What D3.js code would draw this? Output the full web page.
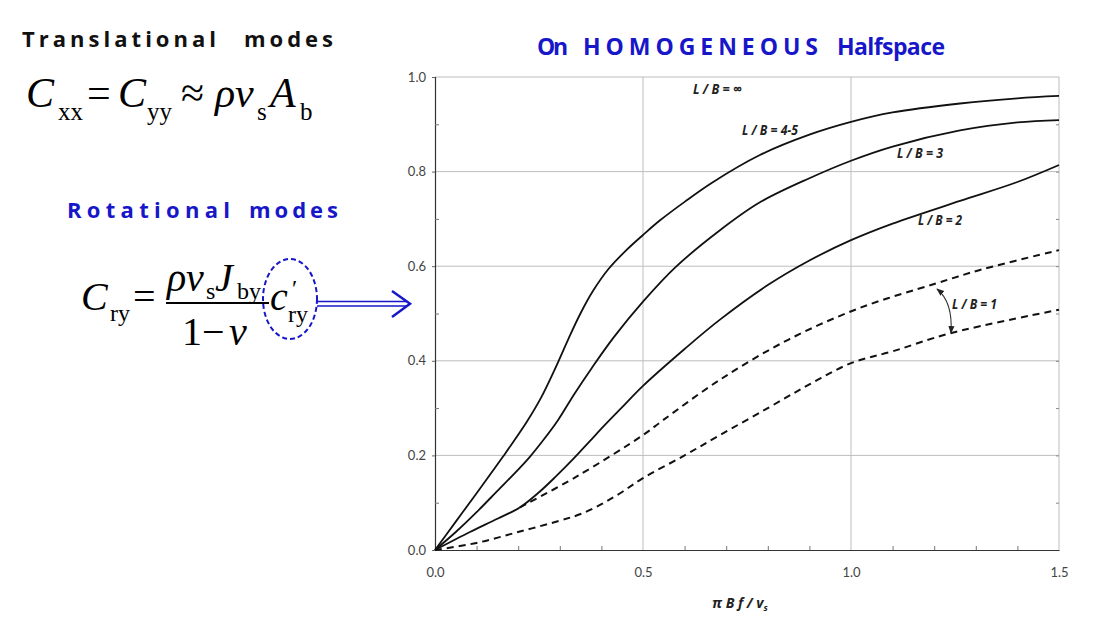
<!DOCTYPE html>
<html><head><meta charset="utf-8">
<script src="https://cdn.jsdelivr.net/npm/d3@7"></script>
<style>body{margin:0;background:#fff}svg{display:block}</style>
</head><body>
<svg id="c" width="1094" height="632"></svg>
<script>
// ---- data ----
const xTicks = [0.0, 0.5, 1.0, 1.5];
const yTicks = [0.0, 0.2, 0.4, 0.6, 0.8, 1.0];
const minorX = [0.1,0.2,0.3,0.4,0.6,0.7,0.8,0.9,1.1,1.2,1.3,1.4];
const minorY = [0.1,0.3,0.5,0.7,0.9];

const topX = [0,0.05,0.1,0.164,0.22,0.255,0.288,0.32,0.349,0.38,0.417,0.46,0.5,0.541,0.6,0.665,0.781,0.9,1.0,1.1,1.262,1.4,1.5];
const topY = [0,0.06,0.12,0.198,0.27,0.322,0.382,0.445,0.499,0.548,0.594,0.634,0.666,0.697,0.736,0.776,0.835,0.878,0.905,0.925,0.944,0.955,0.96];

const midX = [0,0.05,0.1,0.15,0.2,0.228,0.26,0.296,0.335,0.377,0.43,0.5,0.577,0.685,0.781,0.9,1.0,1.1,1.262,1.4,1.5];
const midY = [0,0.038,0.08,0.125,0.17,0.197,0.232,0.275,0.33,0.385,0.45,0.525,0.597,0.676,0.735,0.786,0.823,0.853,0.887,0.904,0.909];

const lb2X = [0,0.084,0.15,0.204,0.25,0.29,0.333,0.37,0.409,0.45,0.5,0.6,0.685,0.8,0.9,1.0,1.1,1.262,1.4,1.5];
const lb2Y = [0,0.038,0.066,0.09,0.122,0.155,0.193,0.228,0.265,0.302,0.347,0.425,0.487,0.56,0.612,0.655,0.69,0.738,0.778,0.814];

const lb1aX = [0.204,0.34,0.5,0.549,0.685,0.85,1.022,1.206,1.31,1.5];
const lb1aY = [0.09,0.155,0.243,0.275,0.36,0.445,0.512,0.564,0.592,0.634];

const lb1bX = [0,0.1,0.204,0.3,0.35,0.4,0.445,0.5,0.6,0.685,0.8,0.9,1.0,1.1,1.238,1.5];
const lb1bY = [0,0.015,0.039,0.062,0.076,0.097,0.12,0.152,0.2,0.243,0.3,0.35,0.395,0.42,0.458,0.508];

const curveLabels = ["L / B = \u221E", "L / B = 4-5", "L / B = 3", "L / B = 2", "L / B = 1"];

// ---- drawing ----
const svg = d3.select("#c");
const x = d3.scaleLinear().domain([0,1.5]).range([435,1059]);
const y = d3.scaleLinear().domain([0,1]).range([550,77]);
const BLUE = "#1717c9";

// grid
svg.append("g").selectAll("line").data(yTicks.slice(1)).join("line")
  .attr("x1",x(0)).attr("x2",x(1.5)).attr("y1",d=>y(d)).attr("y2",d=>y(d))
  .attr("stroke","#bdbdbd").attr("stroke-width",1);
svg.append("g").selectAll("line").data(xTicks.slice(1)).join("line")
  .attr("y1",y(0)).attr("y2",y(1)).attr("x1",d=>x(d)).attr("x2",d=>x(d))
  .attr("stroke","#bdbdbd").attr("stroke-width",1);

// axes
const fmt = d3.format(".1f");
const gx = svg.append("g").attr("transform",`translate(0,${y(0)})`)
  .call(d3.axisBottom(x).tickValues(xTicks).tickFormat(fmt).tickSize(0).tickPadding(18));
const gy = svg.append("g").attr("transform",`translate(${x(0)},0)`)
  .call(d3.axisLeft(y).tickValues(yTicks).tickFormat(fmt).tickSize(3).tickPadding(6));
[gx,gy].forEach(g=>{
  g.select(".domain").attr("stroke","#333").attr("stroke-width",1.2);
  g.selectAll("text").attr("font-family","Lato, 'Open Sans', sans-serif").attr("font-size",13).attr("fill","#444");
  g.selectAll(".tick line").attr("stroke","#666");
});
// minor ticks
svg.append("g").attr("transform",`translate(0,${y(0)})`)
  .call(d3.axisBottom(x).tickValues(minorX).tickFormat("").tickSize(-4))
  .call(g=>{g.select(".domain").remove(); g.selectAll("line").attr("stroke","#777");});
svg.append("g").attr("transform",`translate(${x(0)},0)`)
  .call(d3.axisLeft(y).tickValues(minorY).tickFormat("").tickSize(-4))
  .call(g=>{g.select(".domain").remove(); g.selectAll("line").attr("stroke","#777");});
svg.append("g").attr("transform",`translate(${x(1.5)},0)`)
  .call(d3.axisRight(y).tickValues(minorY.concat(yTicks.slice(1,5))).tickFormat("").tickSize(-3))
  .call(g=>{g.select(".domain").remove(); g.selectAll("line").attr("stroke","#888");});

// curves
const line = d3.line().x(d=>x(d[0])).y(d=>y(d[1])).curve(d3.curveCatmullRom.alpha(0.5));
const series = [
  {xs:topX, ys:topY, dash:null},
  {xs:midX, ys:midY, dash:null},
  {xs:lb2X, ys:lb2Y, dash:null},
  {xs:lb1aX, ys:lb1aY, dash:"7,5"},
  {xs:lb1bX, ys:lb1bY, dash:"7,5"}
];
svg.append("g").selectAll("path").data(series).join("path")
  .attr("d",s=>line(s.xs.map((v,i)=>[v,s.ys[i]])))
  .attr("fill","none").attr("stroke","#111")
  .attr("stroke-width",d=>d.dash?2:1.8)
  .attr("stroke-dasharray",d=>d.dash);

// curve labels
const labPos = [[693,94,49],[742,135,56],[897,158,46],[918,225,44],[952,309,45]];
svg.append("g").selectAll("text").data(curveLabels).join("text")
  .attr("x",(d,i)=>labPos[i][0]).attr("y",(d,i)=>labPos[i][1])
  .attr("textLength",(d,i)=>labPos[i][2]).attr("lengthAdjust","spacingAndGlyphs")
  .attr("font-family","'Open Sans', Lato, sans-serif").attr("font-style","italic").attr("font-weight",700)
  .attr("font-size",14).attr("fill","#222").text(d=>d);

// L/B=1 arrow
const defs = svg.append("defs");
defs.append("marker").attr("id","ah").attr("viewBox","0 0 10 10").attr("refX",9).attr("refY",5)
  .attr("markerWidth",7).attr("markerHeight",7).attr("orient","auto-start-reverse")
  .append("path").attr("d","M0,1 L10,5 L0,9 Z").attr("fill","#222");
svg.append("path").attr("d","M937,289 Q953,302 951,333").attr("fill","none")
  .attr("stroke","#333").attr("stroke-width",1.1)
  .attr("marker-start","url(#ah)").attr("marker-end","url(#ah)");

// axis title
const at = svg.append("text").attr("x",712).attr("y",608)
  .attr("font-family","'Open Sans', Lato, sans-serif").attr("font-weight",700).attr("font-style","italic")
  .attr("font-size",14).attr("fill","#222");
at.append("tspan").text("\u03C0 B f / v");
at.append("tspan").attr("font-size",9).attr("dy",3).text("s");

// titles
function title(t,x0,len,yy,size,col){
  svg.append("text").attr("x",x0).attr("y",yy).attr("textLength",len).attr("lengthAdjust","spacing")
    .attr("font-family","'Open Sans', sans-serif").attr("font-weight",700).attr("font-size",size)
    .attr("fill",col).text(t);
}
title("On",537,31,55,23,BLUE);
title("HOMOGENEOUS",583,235,55,23,BLUE);
title("Halfspace",837,108,55,23,BLUE);
title("Translational",22,194,47,22,"#111");
title("modes",244,89,47,22,"#111");
title("Rotational",67,163,218,22,BLUE);
title("modes",249,89,218,22,BLUE);

// formulas
const SER = "'Liberation Serif', 'Times New Roman', serif";
function put(t,xx,yy,size,ital){
  svg.append("text").attr("x",xx).attr("y",yy).attr("font-family",SER)
    .attr("font-size",size).attr("font-style",ital?"italic":"normal").attr("fill","#000").text(t);
}
put("C",26,107,42,true); put("xx",58,120,25,false);
put("=",87,107,42,false);
put("C",118,107,42,true); put("yy",147,120,25,false);
put("\u2248",181,107,42,false);
put("\u03C1",215,107,42,true); put("v",235,107,42,true); put("s",257,120,25,false);
put("A",270,107,42,true); put("b",300,120,25,false);

put("C",81,310,40,true); put("ry",110,321,24,false);
put("=",133,310,40,false);
put("\u03C1",167,291,40,true); put("v",186,291,40,true); put("s",206,299,24,false);
put("J",215,291,40,true); put("by",237,299,24,false);
svg.append("line").attr("x1",166).attr("x2",269).attr("y1",303).attr("y2",303).attr("stroke","#000").attr("stroke-width",2);
put("1",182,345,40,false); put("\u2212",202,345,40,false); put("\u03BD",229,345,40,true);
put("c",270,310,40,true); put("\u2032",292,296,24,false); put("ry",288,322,24,false);

svg.append("ellipse").attr("cx",290).attr("cy",299).attr("rx",27).attr("ry",40)
  .attr("fill","none").attr("stroke",BLUE).attr("stroke-width",2).attr("stroke-dasharray","5,3");
// double arrow
svg.append("line").attr("x1",317).attr("x2",406).attr("y1",301.5).attr("y2",301.5).attr("stroke",BLUE).attr("stroke-width",1.5);
svg.append("line").attr("x1",317).attr("x2",406).attr("y1",306).attr("y2",306).attr("stroke",BLUE).attr("stroke-width",1.5);
svg.append("path").attr("d","M392,291 L410,303.8 L392,317").attr("fill","none").attr("stroke",BLUE).attr("stroke-width",2.5);
</script>
</body></html>
